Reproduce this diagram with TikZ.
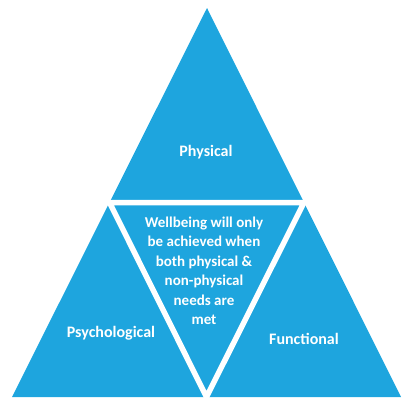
\documentclass[tikz,border=0pt]{standalone}
\usepackage{fontspec}
\setmainfont{Carlito}
\usepackage{xcolor}
\usetikzlibrary{positioning,calc}
\definecolor{wellblue}{RGB}{30,165,222}

\begin{document}
\begin{tikzpicture}[
        x=1pt, y=-1pt,
        sidelabel/.style={
            text=white,
            font=\bfseries\fontsize{16}{19.5}\selectfont,
            align=center
        },
        centrelabel/.style={
            text=white,
            font=\bfseries\fontsize{15}{19.5}\selectfont,
            align=center
        },
        divider/.style={
            draw=white,
            line width=5.5pt,
            line join=miter
        }
    ]
        \useasboundingbox (0,0) rectangle (412,407);

        % outer triangle corners
        \coordinate (apex) at (207,8);
        \coordinate (left) at (12,397);
        \coordinate (right) at (401,397);

        % midpoints of the sides
        \coordinate (midl) at ($(apex)!0.5!(left)$);
        \coordinate (midr) at ($(apex)!0.5!(right)$);
        \coordinate (midb) at ($(left)!0.5!(right)$);

        \fill[wellblue] (apex) -- (left) -- (right) -- cycle;
        \draw[divider, fill=wellblue] (midl) -- (midr) -- (midb) -- cycle;

        \node[sidelabel] (physical) at (206,152) {Physical};
        \node[sidelabel] (psychological) at (111,333) {Psychological};
        \node[sidelabel] (functional) at (304,339) {Functional};
        \node[centrelabel] (wellbeing) at (204,271) {Wellbeing will only\\be achieved when\\both physical \&\\non-physical\\needs are\\met};
    \end{tikzpicture}
\end{document}
